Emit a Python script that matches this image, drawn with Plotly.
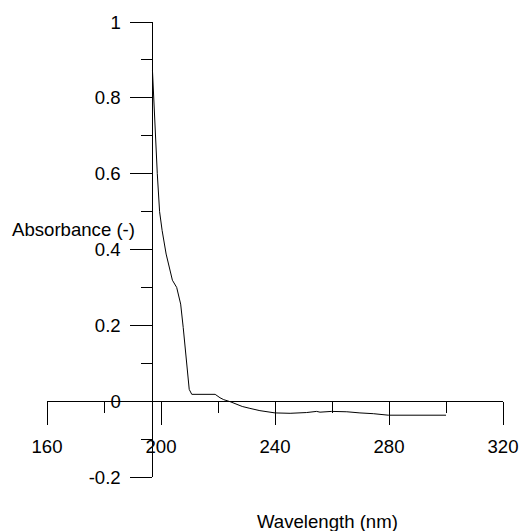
import plotly.graph_objects as go

# Data
wavelength = [197.0, 197.4, 198.0, 198.7, 199.5, 200.4, 201.8, 202.9, 204.0, 205.5,
              206.9, 207.8, 208.8, 209.4, 209.9, 210.8, 219.0, 220.7, 222.0, 224.5,
              228.5, 231.2, 234.7, 240.0, 245.3, 251.1, 254.6, 255.8, 259.9, 265.2,
              268.7, 269.8, 274.5, 279.8, 300.0]
absorbance = [0.873, 0.800, 0.700, 0.600, 0.500, 0.450, 0.388, 0.357, 0.319, 0.300,
              0.256, 0.194, 0.124, 0.079, 0.031, 0.018, 0.018, 0.009, 0.004, -0.002,
              -0.014, -0.019, -0.025, -0.031, -0.032, -0.030, -0.027, -0.029, -0.027, -0.028,
              -0.029, -0.031, -0.033, -0.037, -0.037]

x_ticks = [160, 200, 240, 280, 320]
x_ticktext = ["160", "200", "240", "280", "320"]
x_minor = [180, 220, 260, 300]
y_ticks = [-0.2, 0, 0.2, 0.4, 0.6, 0.8, 1]
y_ticktext = ["-0.2", "0", "0.2", "0.4", "0.6", "0.8", "1"]
y_minor = [-0.1, 0.1, 0.3, 0.5, 0.7, 0.9]

x_range = [160, 320]
y_range = [-0.2, 1]
y_axis_at = 197.0   # wavelength where the vertical axis crosses

FONT = "Liberation Sans, Arial, sans-serif"
FS = 18.6

fig = go.Figure()
fig.add_trace(go.Scatter(x=wavelength, y=absorbance, mode="lines",
                         line=dict(color="black", width=1), showlegend=False))

fig.update_layout(
    width=521, height=531,
    autosize=False,
    showlegend=False,
    margin=dict(l=47, r=18, t=22, b=54, pad=0, autoexpand=False),
    paper_bgcolor="white", plot_bgcolor="white",
    font=dict(family=FONT, size=FS, color="black"),
    xaxis=dict(
        range=x_range, anchor="free", automargin=False,
        position=(0 - y_range[0]) / (y_range[1] - y_range[0]),
        showline=True, linecolor="black", linewidth=1,
        showgrid=False, zeroline=False,
        tickmode="array", tickvals=x_ticks, ticktext=x_ticktext,
        ticks="outside", ticklen=23, tickwidth=1, tickcolor="black",
        ticklabelstandoff=6,
        minor=dict(tickmode="array", tickvals=x_minor, ticks="outside",
                   ticklen=11, tickwidth=1, tickcolor="black", showgrid=False),
        tickfont=dict(family=FONT, size=FS, color="black"),
    ),
    yaxis=dict(
        range=y_range, anchor="free", automargin=False,
        position=(y_axis_at - x_range[0]) / (x_range[1] - x_range[0]),
        showline=True, linecolor="black", linewidth=1,
        showgrid=False, zeroline=False,
        tickmode="array", tickvals=y_ticks, ticktext=y_ticktext,
        ticks="outside", ticklen=22, tickwidth=1, tickcolor="black",
        ticklabelstandoff=6,
        minor=dict(tickmode="array", tickvals=y_minor, ticks="outside",
                   ticklen=11, tickwidth=1, tickcolor="black", showgrid=False),
        tickfont=dict(family=FONT, size=FS, color="black"),
    ),
    annotations=[
        dict(text="Absorbance (-)", xref="paper", yref="paper",
             x=(137 - 47) / 456, y=(476.7 - 229) / 454.7,
             xanchor="right", yanchor="middle", showarrow=False,
             font=dict(family=FONT, size=FS, color="black")),
        dict(text="Wavelength (nm)", xref="paper", yref="paper",
             x=(327.5 - 47) / 456, y=(476.7 - 521) / 454.7,
             xanchor="center", yanchor="middle", showarrow=False,
             font=dict(family=FONT, size=FS, color="black")),
    ],
)

fig.write_html("out.html")
